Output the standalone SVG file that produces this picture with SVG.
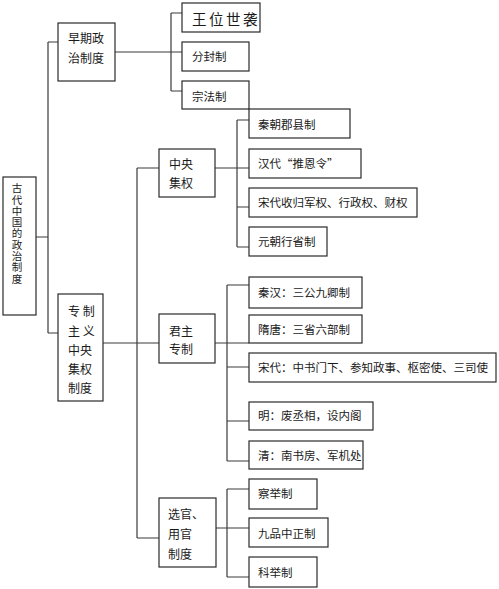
<svg xmlns="http://www.w3.org/2000/svg" width="499" height="589" viewBox="0 0 499 589">
<style>
.bg{fill:#ffffff}
.box{fill:#ffffff;stroke:#2a2a2a;stroke-width:1.2}
.ln{fill:none;stroke:#3a3a3a;stroke-width:1.2}
.t{font-family:"Noto Sans CJK SC","Noto Sans CJK TC",sans-serif;font-size:11.5px;fill:#1a1a1a;dominant-baseline:central}
.tl{font-size:12px}
.big{font-size:14.5px;letter-spacing:2.5px}
.root{font-size:10.5px;writing-mode:vertical-rl;letter-spacing:0.8px}
</style>
<rect class="bg" x="0" y="0" width="499" height="589"/>
<g id="connectors">
<path class="ln" d="M36,237 H48 M48,42 V333 M48,42 H58 M48,333 H58"/>
<path class="ln" d="M115,52 H182 M171,13 V91 M171,13 H182 M171,91 H182"/>
<path class="ln" d="M103,343 H159 M137,168 V538 M137,168 H159 M137,538 H159"/>
<path class="ln" d="M215,168 H249 M237,120 V247 M237,120 H249 M237,207 H249 M237,247 H249"/>
<path class="ln" d="M215,343 H249 M227,285 V461 M227,285 H249 M227,367 H249 M227,421 H249 M227,461 H249"/>
<path class="ln" d="M216,528 H249 M227,489 V577 M227,489 H249 M227,577 H249"/>
</g>
<g id="root">
<rect class="box" x="3" y="177" width="33" height="138"/>
<text class="t root" x="17" y="183">古代中国的政治制度</text>
</g>
<g id="early">
<rect class="box" x="58" y="23" width="57" height="58"/>
<text class="t tl" x="68" y="37">早期政</text>
<text class="t tl" x="68" y="57">治制度</text>
</g>
<g id="wangwei">
<rect class="box" x="182" y="3" width="78" height="29"/>
<text class="t big" x="192" y="18">王位世袭</text>
</g>
<g id="fenfeng">
<rect class="box" x="182" y="42" width="67" height="29"/>
<text class="t" x="192" y="56">分封制</text>
</g>
<g id="zongfa">
<rect class="box" x="182" y="81" width="67" height="28"/>
<text class="t" x="192" y="96">宗法制</text>
</g>
<g id="zhongyang">
<rect class="box" x="159" y="149" width="56" height="48"/>
<text class="t tl" x="169" y="163">中央</text>
<text class="t tl" x="169" y="182">集权</text>
</g>
<g id="qinchao">
<rect class="box" x="249" y="109" width="101" height="29"/>
<text class="t" x="258" y="124">秦朝郡县制</text>
</g>
<g id="handai">
<rect class="box" x="249" y="149" width="112" height="29"/>
<text class="t" x="258" y="163">汉代“推恩令”</text>
</g>
<g id="songdai1">
<rect class="box" x="249" y="188" width="168" height="29"/>
<text class="t" x="258" y="202">宋代收归军权、行政权、财权</text>
</g>
<g id="yuanchao">
<rect class="box" x="249" y="227" width="78" height="29"/>
<text class="t" x="258" y="241">元朝行省制</text>
</g>
<g id="zhuanzhi">
<rect class="box" x="58" y="294" width="45" height="107"/>
<text class="t tl" x="68" y="310" xml:space="preserve">专 制</text>
<text class="t tl" x="68" y="330" xml:space="preserve">主 义</text>
<text class="t tl" x="68" y="349">中央</text>
<text class="t tl" x="68" y="368">集权</text>
<text class="t tl" x="68" y="387">制度</text>
</g>
<g id="junzhu">
<rect class="box" x="159" y="314" width="56" height="49"/>
<text class="t tl" x="169" y="330">君主</text>
<text class="t tl" x="169" y="348">专制</text>
</g>
<g id="qinhan">
<rect class="box" x="249" y="277" width="113" height="31"/>
<text class="t" x="258" y="292">秦汉：三公九卿制</text>
</g>
<g id="suitang">
<rect class="box" x="249" y="315" width="113" height="28"/>
<text class="t" x="258" y="329">隋唐：三省六部制</text>
</g>
<g id="songdai2">
<rect class="box" x="249" y="353" width="247" height="29"/>
<text class="t" x="258" y="367">宋代：中书门下、参知政事、枢密使、三司使</text>
</g>
<g id="ming">
<rect class="box" x="249" y="402" width="124" height="28"/>
<text class="t" x="258" y="415">明：废丞相，设内阁</text>
</g>
<g id="qing">
<rect class="box" x="249" y="441" width="114" height="28"/>
<text class="t" x="258" y="455">清：南书房、军机处</text>
</g>
<g id="xuanguan">
<rect class="box" x="159" y="498" width="57" height="69"/>
<text class="t tl" x="168" y="513">选官、</text>
<text class="t tl" x="168" y="533">用官</text>
<text class="t tl" x="168" y="553">制度</text>
</g>
<g id="chaju">
<rect class="box" x="249" y="479" width="68" height="30"/>
<text class="t" x="258" y="493">察举制</text>
</g>
<g id="jiupin">
<rect class="box" x="249" y="518" width="79" height="29"/>
<text class="t" x="258" y="533">九品中正制</text>
</g>
<g id="keju">
<rect class="box" x="249" y="557" width="68" height="30"/>
<text class="t" x="258" y="572">科举制</text>
</g>
</svg>
